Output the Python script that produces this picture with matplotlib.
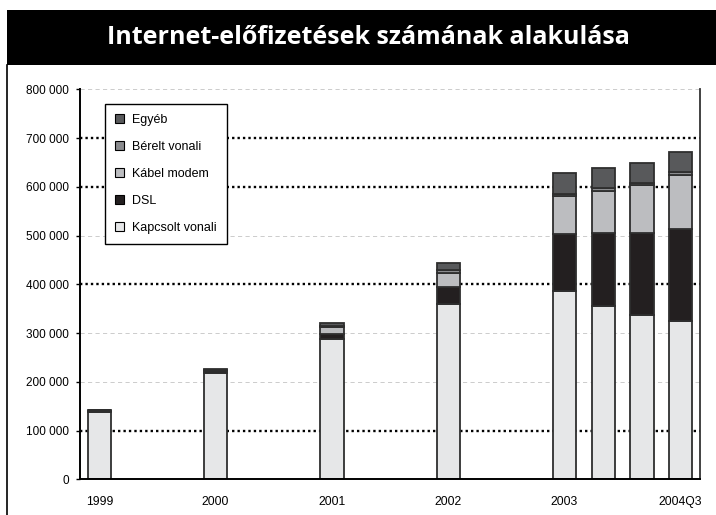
import matplotlib
matplotlib.use("Agg")
import matplotlib.pyplot as plt
from matplotlib.patches import Patch, Rectangle
from matplotlib.lines import Line2D
from matplotlib.ticker import FuncFormatter

# ---- data (subscriptions) ----
categories = ['1999', '2000', '2001', '2002', '2003', '2004Q1', '2004Q2', '2004Q3']
tick_labels = ['1999', '2000', '2001', '2002', '2003', '', '', '2004Q3']
kapcsolt = [138000, 218000, 288000, 360000, 386000, 356000, 337000, 325000]
dsl = [3000, 4000, 10000, 33500, 118000, 148500, 167500, 188000]
kabel = [500, 2000, 14000, 29500, 76500, 87000, 99000, 111000]
berelt = [500, 1000, 3000, 7000, 4000, 6000, 5000, 6000]
egyeb = [0, 1000, 6000, 13500, 44000, 41000, 40000, 42000]
series_names = ['Kapcsolt vonali', 'DSL', 'Kábel modem', 'Bérelt vonali', 'Egyéb']
title = 'Internet-előfizetések számának alakulása'
yticks = [0, 100000, 200000, 300000, 400000, 500000, 600000, 700000, 800000]

# ---- layout / style ----
x_pos = [0, 3, 6, 9, 12, 13, 14, 15]
colors = ['#e6e7e8', '#231f20', '#bcbdc0', '#8a8b8e', '#58595b']
plt.rcParams['font.family'] = ['Liberation Sans', 'DejaVu Sans']

fig = plt.figure(figsize=(7.16, 5.15), dpi=100)
W, H = 716, 515

# title bar
fig.patches.append(Rectangle((7 / W, 1 - 65 / H), 1 - 7 / W, 55 / H,
                             transform=fig.transFigure, facecolor='black',
                             edgecolor='none', zorder=0))
fig.text(0.515, 1 - 38 / H, title, color='white', ha='center', va='center',
         fontsize=18, fontweight='bold', family=['Open Sans', 'DejaVu Sans'])
# outer frame left line
fig.lines.append(Line2D([7 / W, 7 / W], [0, 1 - 65 / H], transform=fig.transFigure,
                        color='black', lw=1.2))

ax = fig.add_axes([80 / W, (H - 479.3) / H, 620 / W, 390 / H])
ax.set_xlim(-0.5, 15.5)
ax.set_ylim(0, 800000)

# gridlines
for v in yticks[1:]:
    if v in (100000, 400000, 600000, 700000):
        ax.axhline(v, color='black', lw=1.7, linestyle=(0, (1, 1.3)), zorder=1)
    else:
        ax.axhline(v, color='#c4c4c4', lw=0.6, linestyle=(0, (5, 4)), zorder=1)

bottom = [0] * len(categories)
series = [kapcsolt, dsl, kabel, berelt, egyeb]
for vals, name, c in zip(series, series_names, colors):
    ax.bar(x_pos, vals, width=0.6, bottom=bottom, color=c, edgecolor='#2e2e2e',
           linewidth=1.3, label=name, zorder=2)
    bottom = [b + v for b, v in zip(bottom, vals)]

ax.set_xticks(x_pos)
ax.set_xticklabels(tick_labels, fontsize=8.7)
ax.tick_params(axis='x', length=0, pad=12)
ax.set_yticks(yticks)
ax.yaxis.set_major_formatter(FuncFormatter(lambda v, p: f"{int(v):,}".replace(',', ' ')))
ax.tick_params(axis='y', length=3, width=1, direction='out', labelsize=8.5, pad=5)

for s in ['left', 'bottom']:
    ax.spines[s].set_linewidth(1.4)
    ax.spines[s].set_color('black')
ax.spines['right'].set_linewidth(1.3)
ax.spines['right'].set_color('#333333')
ax.spines['top'].set_visible(False)

handles = [Patch(facecolor=c, edgecolor='black', linewidth=0.8) for c in colors][::-1]
leg = ax.legend(handles, series_names[::-1], loc='upper left',
                bbox_to_anchor=(0.040, 0.962), borderaxespad=0, fontsize=9,
                handlelength=0.7, handleheight=0.7, handletextpad=0.7,
                labelspacing=1.2, borderpad=0.8, fancybox=False,
                frameon=True, framealpha=1)
leg.get_frame().set_edgecolor('black')
leg.get_frame().set_linewidth(1.0)
leg.set_zorder(5)
# right padding of legend box like reference
leg._legend_box.sep = 0

fig.savefig('out.png', dpi=100)
